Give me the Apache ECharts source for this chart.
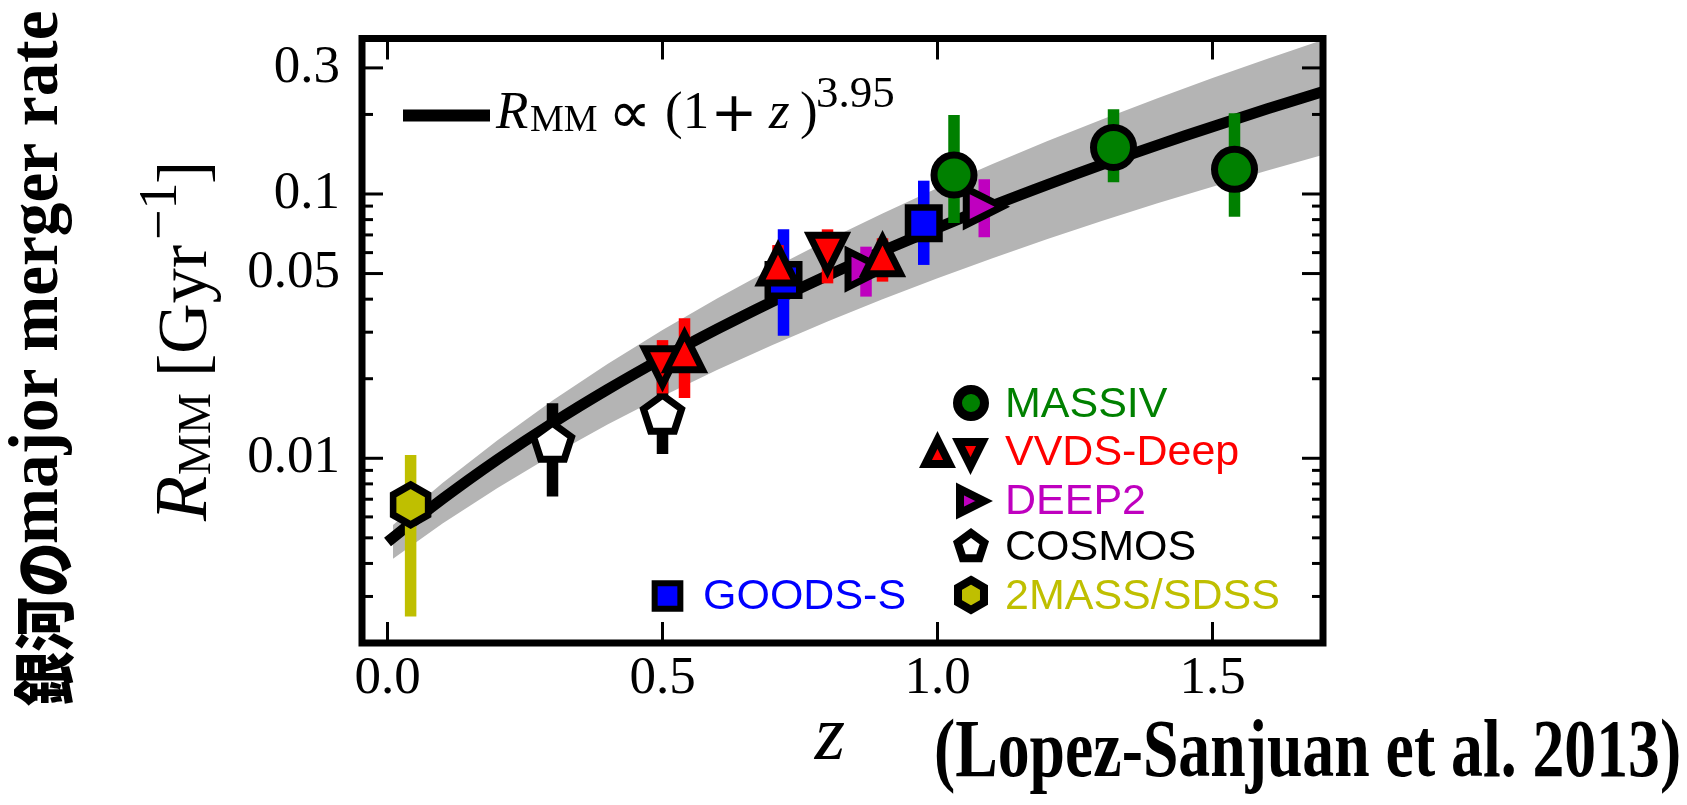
<!DOCTYPE html>
<html><head><meta charset="utf-8">
<script src="https://cdn.jsdelivr.net/npm/echarts@6/dist/echarts.min.js"></script>
<style>html,body{margin:0;padding:0;background:#fff;}#c{width:1687px;height:805px;}</style>
</head><body><div id="c"></div>
<script>
// ---------- data ----------
const xTickValues = [0, 0.5, 1.0, 1.5];
const yTickMajor = [0.01, 0.05, 0.1, 0.3];
const yTickMinor = [0.003, 0.004, 0.005, 0.006, 0.007, 0.008, 0.009, 0.02, 0.03, 0.04, 0.06, 0.07, 0.08, 0.09, 0.2];

// fit R_MM ∝ (1+z)^3.95
const fitZ = [0.0, 0.1, 0.2, 0.3, 0.4, 0.5, 0.6, 0.7, 0.8, 0.9, 1.0, 1.1, 1.2, 1.3, 1.4, 1.5, 1.6, 1.7];
const fitR = [0.00482, 0.00702, 0.00990, 0.01359, 0.01821, 0.02391, 0.03085, 0.03920, 0.04914, 0.06083, 0.07449, 0.09033, 0.1085, 0.1294, 0.1531, 0.1798, 0.2100, 0.2439];
// grey uncertainty band, upper and lower edges
const bandZ = [0.01, 0.1, 0.2, 0.3, 0.4, 0.5, 0.6, 0.7, 0.8, 0.9, 1.0, 1.1, 1.2, 1.3, 1.4, 1.5, 1.6, 1.7];
const bandHi = [0.00559, 0.00806, 0.01171, 0.01653, 0.02273, 0.03058, 0.04035, 0.05236, 0.06696, 0.08445, 0.1053, 0.1298, 0.1586, 0.1920, 0.2305, 0.2747, 0.3251, 0.3827];
const bandLo = [0.00417, 0.00566, 0.00772, 0.01029, 0.01341, 0.01716, 0.02161, 0.02685, 0.03295, 0.03998, 0.04802, 0.05718, 0.06753, 0.07917, 0.09217, 0.1066, 0.1227, 0.1405];

const sdssZ = [0.042];
const sdssR = [0.00666];
const sdssLo = [0.00252];
const sdssHi = [0.0103];

const cosmosZ = [0.30, 0.50];
const cosmosR = [0.0116, 0.0148];
const cosmosLo = [0.00716, 0.01038];
const cosmosHi = [0.01615, 0.0205];

const goodsZ = [0.72, 0.975];
const goodsR = [0.0473, 0.0775];
const goodsLo = [0.0291, 0.0539];
const goodsHi = [0.0735, 0.1123];

const deep2Z = [0.87, 1.085];
const deep2R = [0.0520, 0.0895];
const deep2Lo = [0.0409, 0.0686];
const deep2Hi = [0.0632, 0.1137];

const vvdsUpZ = [0.54, 0.71, 0.90];
const vvdsUpR = [0.0253, 0.0539, 0.0584];
const vvdsUpLo = [0.0169, 0.0450, 0.0466];
const vvdsUpHi = [0.0339, 0.0641, 0.0680];

const vvdsDownZ = [0.50, 0.80];
const vvdsDownR = [0.0222, 0.0597];
const vvdsDownLo = [0.0176, 0.0459];
const vvdsDownHi = [0.0280, 0.0735];

const massivZ = [1.03, 1.32, 1.54];
const massivR = [0.118, 0.150, 0.124];
const massivLo = [0.0777, 0.1108, 0.0821];
const massivHi = [0.199, 0.2092, 0.202];

// ---------- styling ----------
const SERIF = '"Liberation Serif", "DejaVu Serif", serif';
const DSANS = '"DejaVu Sans", sans-serif';
const SANS = '"Liberation Sans", Arial, sans-serif';
const C = {green:'#008000', red:'#ff0000', blue:'#0000ff', magenta:'#bf00bf', olive:'#bfbf00', black:'#000000', band:'#b4b4b4'};
const X_MIN = -0.0464, X_MAX = 1.7009, Y_MIN = 0.002, Y_MAX = 0.3876;

const P = {
  hex: 'path://M0,-1 L0.866,-0.5 L0.866,0.5 L0,1 L-0.866,0.5 L-0.866,-0.5 Z',
  pent: 'path://M0,-1 L0.951,-0.309 L0.588,0.809 L-0.588,0.809 L-0.951,-0.309 Z',
  up: 'path://M0,-1 L1,1 L-1,1 Z',
  down: 'path://M-1,-1 L1,-1 L0,1 Z',
  right: 'path://M-1,-1 L1,0 L-1,1 Z'
};

function xAx(pos, withLabels) {
  return {
    type: 'value', min: X_MIN, max: X_MAX, position: pos, z: 50,
    axisLine: {show: false}, splitLine: {show: false},
    axisTick: {show: true, inside: true, length: 21, customValues: xTickValues, lineStyle: {color: '#000', width: 3}},
    axisLabel: withLabels ? {show: true, customValues: xTickValues, margin: 10, color: '#000',
      fontFamily: SERIF, fontSize: 53, formatter: v => Number(v).toFixed(1)} : {show: false}
  };
}

function errSeries(zs, lo, hi, color, z) {
  return {
    type: 'custom', z: z, silent: true, animation: false,
    data: zs.map((v, i) => [v, lo[i], hi[i]]),
    encode: {x: 0, y: [1, 2]},
    renderItem: function (params, api) {
      const a = api.coord([api.value(0), api.value(1)]);
      const b = api.coord([api.value(0), api.value(2)]);
      const w = 11.5;
      return {type: 'rect', shape: {x: a[0] - w / 2, y: b[1], width: w, height: a[1] - b[1]}, style: {fill: color}};
    }
  };
}
function ptSeries(zs, rs, symbol, size, fill, z, bw) {
  return {
    type: 'scatter', z: z, silent: true, animation: false,
    data: zs.map((v, i) => [v, rs[i]]),
    symbol: symbol, symbolSize: size,
    itemStyle: {color: fill, borderColor: '#000', borderWidth: bw || 7, borderJoin: 'miter', borderMiterLimit: 10, opacity: 1}
  };
}

// legend / annotation helpers (pixel placed graphics)
function poly(cx, cy, pts, s, fill, lw) {
  return {type: 'polygon', z: 100, shape: {points: pts.map(p => [cx + p[0] * s, cy + p[1] * s])},
    style: {fill: fill, stroke: '#000', lineWidth: lw, lineJoin: 'miter', miterLimit: 10}};
}
const UPP = [[0, -1], [1, 1], [-1, 1]];
const DNP = [[-1, -1], [1, -1], [0, 1]];
const RTP = [[-1, -1], [1, 0], [-1, 1]];
const PENT = [[0, -1], [0.951, -0.309], [0.588, 0.809], [-0.588, 0.809], [-0.951, -0.309]];
const HEXP = [[0, -1], [0.866, -0.5], [0.866, 0.5], [0, 1], [-0.866, 0.5], [-0.866, -0.5]];

function txt(x, y, text, font, fill, extra, align) {
  return Object.assign({type: 'text', z: 100, x: x, y: y,
    style: {text: text, font: font, fill: fill, align: align || 'left', verticalAlign: 'middle'}}, extra || {});
}
const ROT = Math.PI / 2;

const graphics = [
  // formula legend
  {type: 'rect', z: 100, shape: {x: 403, y: 109.5, width: 87, height: 12}, style: {fill: '#000'}},
  txt(496, 114, 'R', 'italic 53px ' + SERIF, '#000'),
  txt(530, 121.5, 'MM', '38px ' + SERIF, '#000'),
  txt(630, 117, '∝', '60px ' + DSANS, '#000', null, 'center'),
  txt(665, 114, '(1', '53px ' + SERIF, '#000'),
  txt(734, 116, '+', '56px ' + DSANS, '#000', null, 'center'),
  txt(769, 114, 'z', 'italic 53px ' + SERIF, '#000'),
  txt(800, 114, ')', '53px ' + SERIF, '#000'),
  txt(816, 95, '3.95', '45px ' + SERIF, '#000'),
  // data legend markers
  {type: 'circle', z: 100, shape: {cx: 971, cy: 403, r: 13.5}, style: {fill: C.green, stroke: '#000', lineWidth: 9}},
  poly(937.5, 452, UPP, 12, C.red, 8),
  poly(970.5, 454, DNP, 12, C.red, 8),
  poly(972, 501, RTP, 12, C.magenta, 8),
  poly(971, 547, PENT, 14, '#fff', 8),
  poly(971, 595, HEXP, 15, C.olive, 8),
  {type: 'rect', z: 100, shape: {x: 667.5 - 12.85, y: 596 - 12.85, width: 25.7, height: 25.7}, style: {fill: C.blue, stroke: '#000', lineWidth: 6}},
  txt(1005, 405, 'MASSIV', '43px ' + SANS, C.green),
  txt(1005, 453.4, 'VVDS-Deep', '43px ' + SANS, C.red),
  txt(1005, 501.8, 'DEEP2', '43px ' + SANS, C.magenta),
  txt(1005, 548.4, 'COSMOS', '43px ' + SANS, '#000'),
  txt(1005, 596.8, '2MASS/SDSS', '43px ' + SANS, C.olive),
  txt(703, 596.8, 'GOODS-S', '43px ' + SANS, C.blue),
  // axis titles
  txt(830, 738, 'z', 'italic 78px ' + SERIF, '#000', null, 'center'),
  txt(187, 521, 'R', 'italic 74px ' + SERIF, '#000', {rotation: ROT}),
  txt(198, 475, 'MM', '46px ' + SERIF, '#000', {rotation: ROT}),
  txt(188, 377, '[Gyr', '70px ' + SERIF, '#000', {rotation: ROT}),
  txt(162, 240, '−1', '54px ' + SERIF, '#000', {rotation: ROT}),
  txt(188, 184, ']', '70px ' + SERIF, '#000', {rotation: ROT}),
  // slide annotations
  txt(934, 755, '(Lopez-Sanjuan et al. 2013)', 'bold 83px ' + SERIF, '#000', {scaleX: 0.768}),
  txt(44, 706, '銀河の', '900 62px "Noto Sans CJK JP"', '#000', {rotation: ROT, scaleX: 0.88}),
  txt(39.4, 544, 'major merger rate', 'bold 70px ' + SERIF, '#000', {rotation: ROT, scaleX: 0.96})
];

// tick marks of the log axis on both frame sides (inward)
const yTickItems = yTickMajor.map(v => [X_MIN, v, 21]).concat(yTickMinor.map(v => [X_MIN, v, 11]));

const chart = echarts.init(document.getElementById('c'), null, {renderer: 'canvas'});
chart.setOption({
  animation: false,
  backgroundColor: '#ffffff',
  grid: {left: 362, top: 38.5, width: 961, height: 604.5, show: true, borderColor: '#000', borderWidth: 7, z: 60},
  xAxis: [xAx('bottom', true), xAx('top', false)],
  yAxis: [{
    type: 'log', logBase: 10, min: Y_MIN, max: Y_MAX, position: 'left', z: 50,
    axisLine: {show: false}, splitLine: {show: false}, axisTick: {show: false},
    axisLabel: {show: true, customValues: yTickMajor, margin: 22, color: '#000',
      fontFamily: SERIF, fontSize: 53, formatter: v => String(+Number(v).toPrecision(3))}
  }],
  series: [
    {
      type: 'custom', z: 1, silent: true, animation: false,
      data: [[bandZ[0], bandLo[0]]],
      renderItem: function (params, api) {
        const pts = [];
        for (let i = 0; i < bandZ.length; i++) pts.push(api.coord([bandZ[i], bandHi[i]]));
        for (let i = bandZ.length - 1; i >= 0; i--) pts.push(api.coord([bandZ[i], bandLo[i]]));
        return {type: 'polygon', shape: {points: pts, smooth: 0}, style: {fill: C.band}};
      }
    },
    {
      type: 'line', z: 2, silent: true, animation: false, symbol: 'none', smooth: 0.4,
      data: fitZ.map((v, i) => [v, fitR[i]]),
      lineStyle: {color: '#000', width: 11, cap: 'butt'}
    },
    errSeries(sdssZ, sdssLo, sdssHi, C.olive, 3),
    ptSeries(sdssZ, sdssR, P.hex, [35, 40], C.olive, 4),
    errSeries(cosmosZ, cosmosLo, cosmosHi, C.black, 5),
    ptSeries(cosmosZ, cosmosR, P.pent, [38, 36], '#ffffff', 6),
    errSeries(goodsZ, goodsLo, goodsHi, C.blue, 7),
    ptSeries(goodsZ, goodsR, 'rect', 31.5, C.blue, 8, 6.5),
    errSeries(deep2Z, deep2Lo, deep2Hi, C.magenta, 9),
    ptSeries(deep2Z, deep2R, P.right, 36, C.magenta, 10),
    errSeries(vvdsUpZ, vvdsUpLo, vvdsUpHi, C.red, 11),
    errSeries(vvdsDownZ, vvdsDownLo, vvdsDownHi, C.red, 11),
    ptSeries(vvdsDownZ, vvdsDownR, P.down, 36, C.red, 12),
    ptSeries(vvdsUpZ, vvdsUpR, P.up, 36, C.red, 12),
    errSeries(massivZ, massivLo, massivHi, C.green, 13),
    ptSeries(massivZ, massivR, 'circle', 40, C.green, 14),
    {
      type: 'custom', z: 55, silent: true, animation: false, clip: false,
      data: yTickItems,
      renderItem: function (params, api) {
        const v = api.value(1), len = api.value(2);
        const l = api.coord([X_MIN, v]);
        const r = api.coord([X_MAX, v]);
        return {type: 'group', children: [
          {type: 'line', shape: {x1: l[0], y1: l[1], x2: l[0] + len, y2: l[1]}, style: {stroke: '#000', lineWidth: 3}},
          {type: 'line', shape: {x1: r[0] - len, y1: r[1], x2: r[0], y2: r[1]}, style: {stroke: '#000', lineWidth: 3}}
        ]};
      }
    }
  ],
  graphic: graphics
});
</script>
</body></html>
